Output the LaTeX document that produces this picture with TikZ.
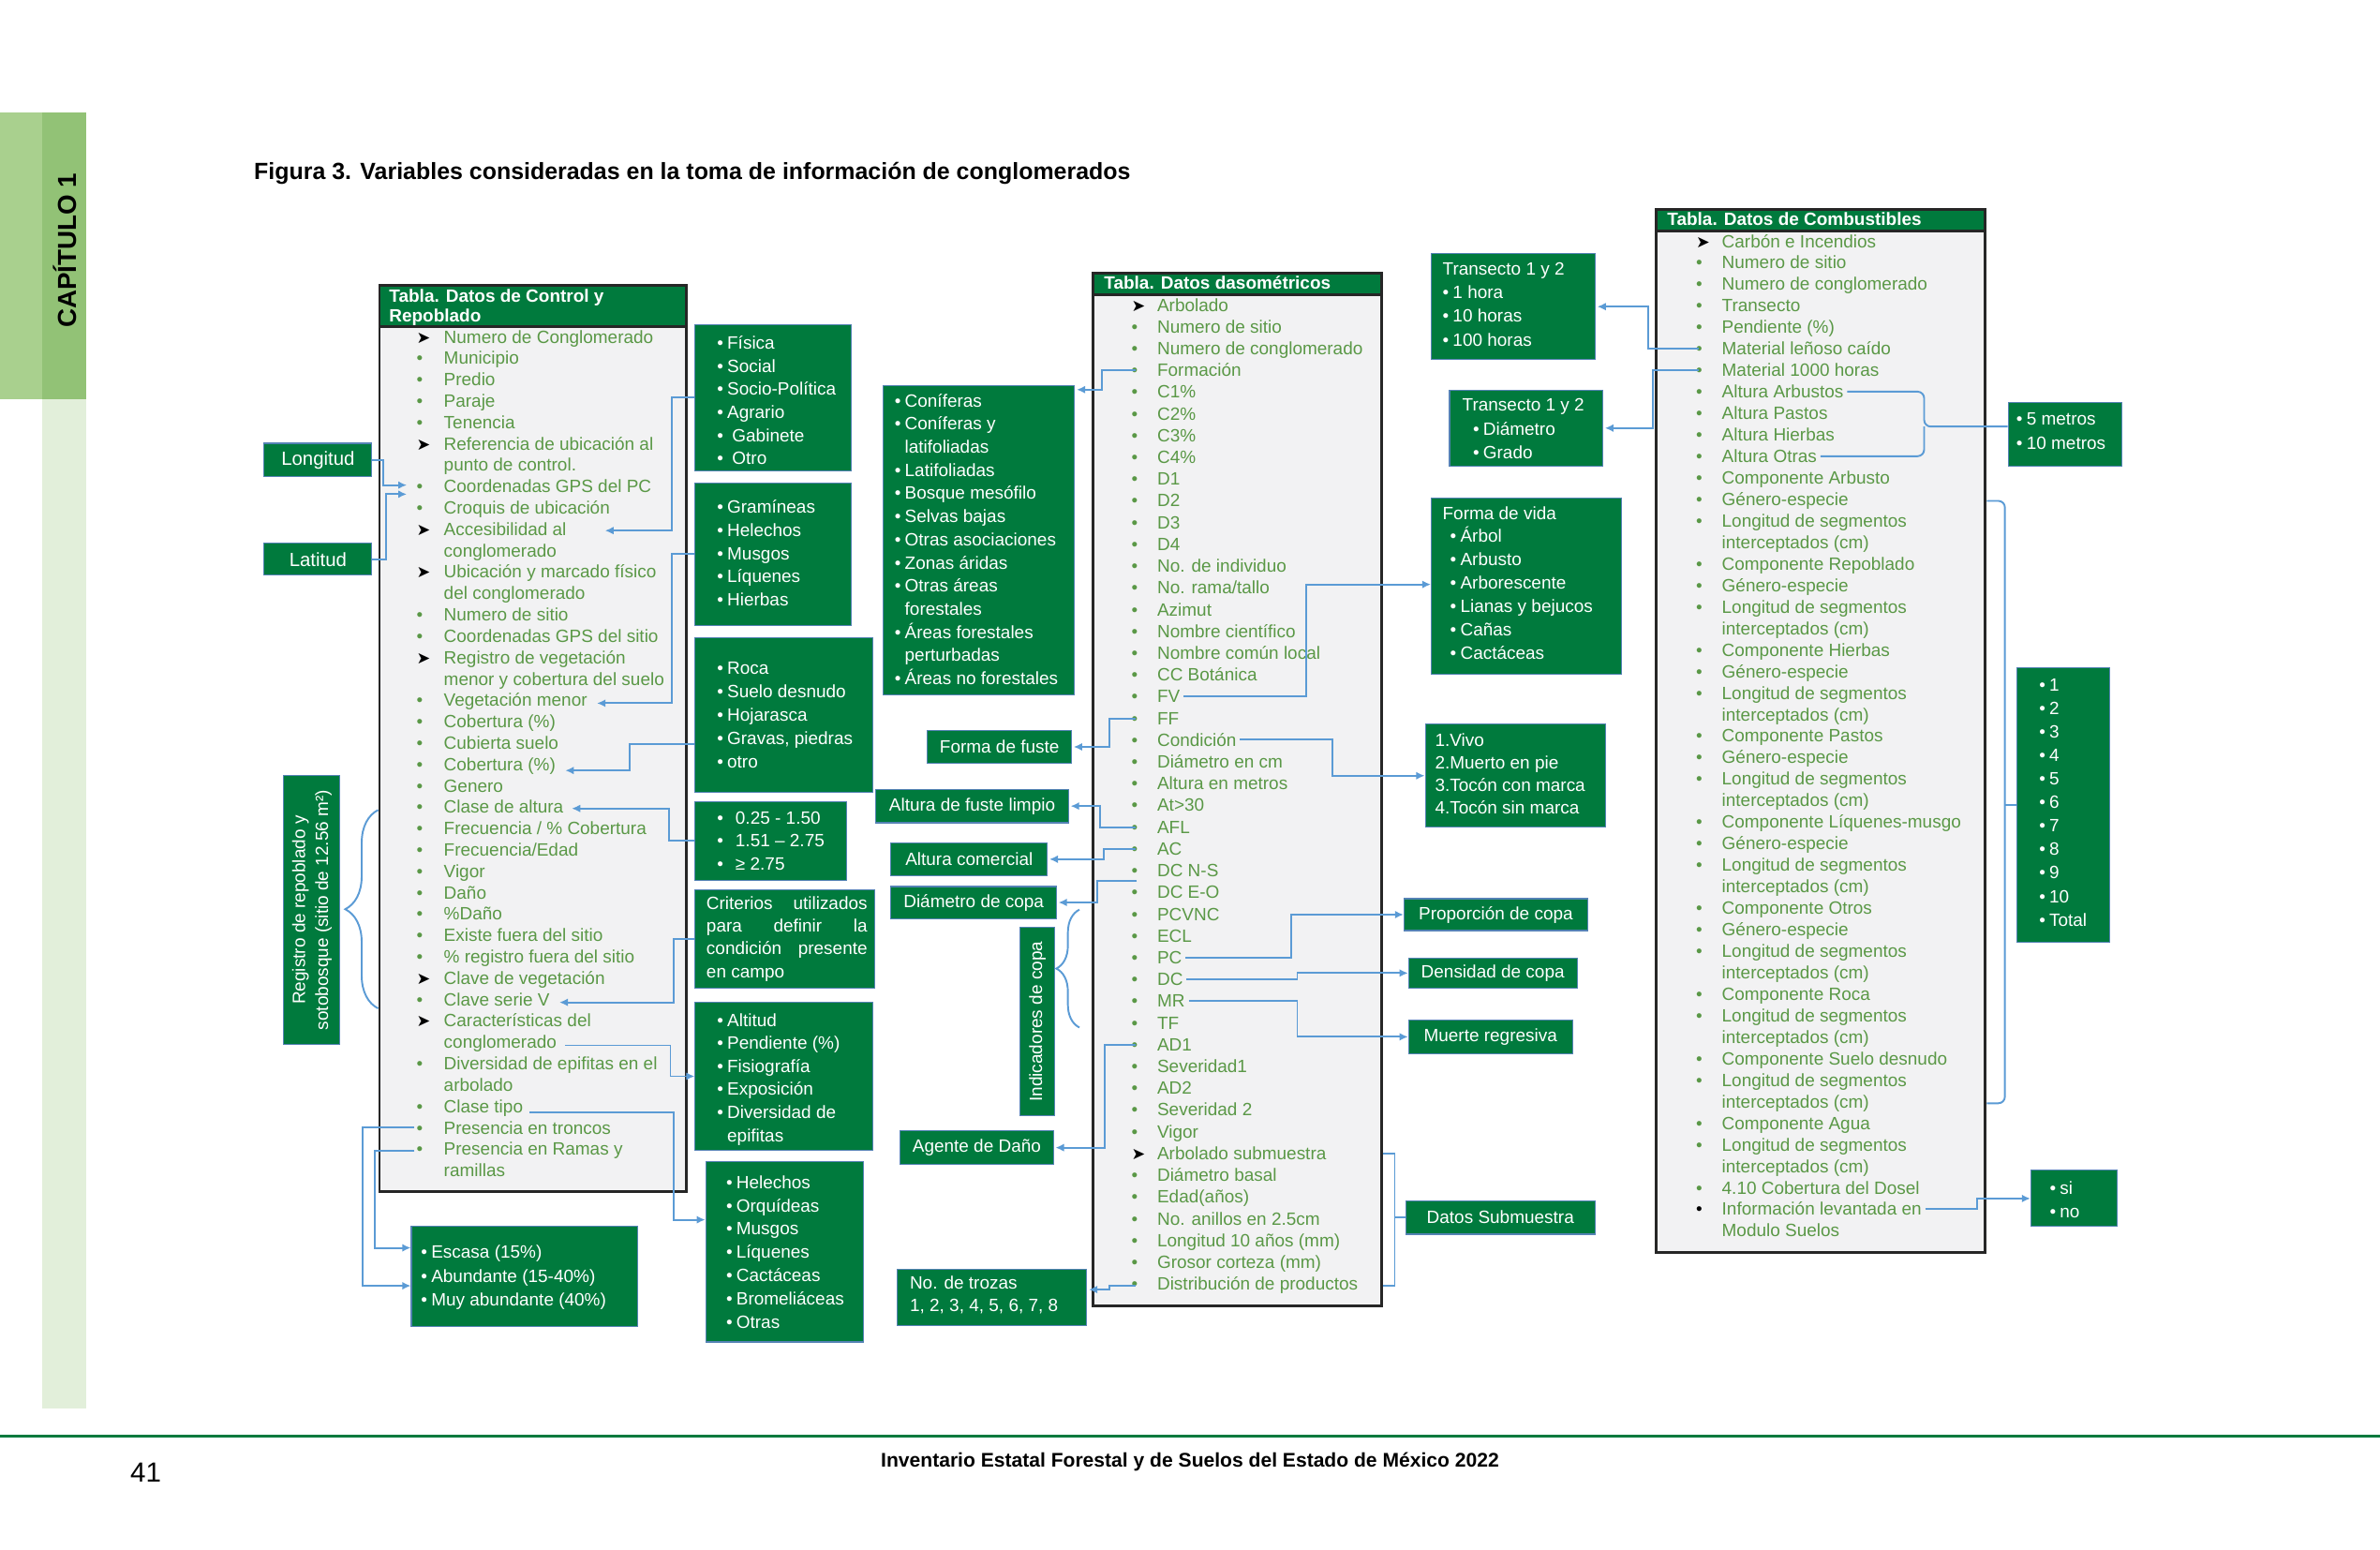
\documentclass[tikz,border=0pt]{standalone}
\usepackage{fontspec}
\setmainfont{Liberation Sans}
\newfontfamily\symf{DejaVu Sans}
\usetikzlibrary{arrows.meta,calc,fit,decorations.pathreplacing}
\definecolor{boxg}{RGB}{0,122,61}
\definecolor{tabtxt}{RGB}{90,152,70}
\definecolor{tabbg}{RGB}{242,242,243}
\definecolor{connc}{RGB}{91,155,213}
\definecolor{boxedge}{RGB}{84,130,180}
\definecolor{sidea}{RGB}{169,208,142}
\definecolor{sideb}{RGB}{146,194,118}
\definecolor{sidec}{RGB}{226,239,218}
\definecolor{footc}{RGB}{0,122,61}
\newdimen\pxu \pxu=0.0162cm
\newcommand\fs{\fontsize{5.4}{6.5}\selectfont}
\newcommand\fsb{\bfseries\fontsize{5.4}{6.5}\selectfont}
\newcommand\bula{{\symf\fontsize{5}{5}\selectfont\color{black}➤}}
\newcommand\bulb{{\color{tabtxt}•}}
\newcommand\bulk{{\color{black}•}}
\newcommand\buln{}
\newcommand\wb{•\kern1.2pt}
\newcommand\wi{\hphantom{\wb}}
\newcommand\tablist[6]{\foreach \bt/\tx [count=\i] in {#6}{%
  \node[txt] (#1\i) at (#3,{#4+4+#5*(\i-1)}) {\tx};
  \node[txt] (#1B\i) at (#2,{#4+4+#5*(\i-1)}) {\csname bul\bt\endcsname};}}
\newcommand\boxlist[5]{\foreach \tx [count=\i] in {#5}{%
  \node[wtxt] (#1\i) at (#2,{#3+4+#4*(\i-1)}) {\tx};}}
\begin{document}
\begin{tikzpicture}[x=0.0162cm,y=-0.0162cm,
  txt/.style={inner sep=0,anchor=base west,font=\fs,text=tabtxt},
  wtxt/.style={inner sep=0,anchor=base west,font=\fs,text=white},
  ctxt/.style={inner sep=0,font=\fs,text=white},
  gbox/.style={fill=boxg,draw=boxedge,line width=0.3pt,inner sep=0},
  tabbox/.style={fill=tabbg,draw=black!85,line width=0.8pt,inner sep=0},
  thead/.style={fill=boxg,draw=black!85,line width=0.8pt,inner sep=0},
  conn/.style={draw=connc,line width=0.55pt},
  arr/.style={conn,-{Latex[length=2.6pt,width=2.4pt]}},
  brc/.style={conn,decorate,decoration={brace,amplitude=#1}},
]
\useasboundingbox (0,0) rectangle (1568,1021);
\fill[white] (0,0) rectangle (1568,1021);
% sidebar
\fill[sidea] (0,74) rectangle (28,263);
\fill[sideb] (28,74) rectangle (57,263);
\fill[sidec] (28,263) rectangle (57,928);
\node[rotate=90,inner sep=0,font=\bfseries\fontsize{7.9}{9}\selectfont] (CAP) at (43,165) {CAPÍTULO 1};
% title and footer
\node[inner sep=0,anchor=base west,font=\bfseries\fontsize{7.1}{8}\selectfont] (TIT) at (167,118.5) {Figura 3. Variables consideradas en la toma de información de conglomerados};
\draw[footc,line width=1pt] (0,946) -- (1568,946);
\node[inner sep=0,font=\bfseries\fontsize{6}{7}\selectfont] (FOO) at (784,963) {Inventario Estatal Forestal y de Suelos del Estado de México 2022};
\node[inner sep=0,font=\fontsize{8.4}{10}\selectfont] (PG) at (96,970) {41};

% ---------- tables ----------
\node[tabbox,fit={(250,188) (452,785)}] (T1) {};
\node[thead,fit={(250,188) (452,215)}] (T1H) {};
\node[wtxt,font=\fsb] (T1H1) at (256,199) {Tabla. Datos de Control y};
\node[wtxt,font=\fsb] (T1H2) at (256,212) {Repoblado};
\tablist{CL}{274}{292}{222}{14.08}{a/Numero de Conglomerado, b/Municipio, b/Predio, b/Paraje, b/Tenencia, a/Referencia de ubicación al, n/punto de control., b/Coordenadas GPS del PC, b/Croquis de ubicación, a/Accesibilidad al, n/conglomerado, a/Ubicación y marcado físico, n/del conglomerado, b/Numero de sitio, b/Coordenadas GPS del sitio, a/Registro de vegetación, n/menor y cobertura del suelo, b/Vegetación menor, b/Cobertura (\%), b/Cubierta suelo, b/Cobertura (\%), b/Genero, b/Clase de altura, b/{Frecuencia / \% Cobertura}, b/{Frecuencia/Edad}, b/Vigor, b/Daño, b/\%Daño, b/Existe fuera del sitio, b/\% registro fuera del sitio, a/Clave de vegetación, b/Clave serie V, a/Características del, n/conglomerado, b/Diversidad de epifitas en el, n/arbolado, b/Clase tipo, b/Presencia en troncos, b/Presencia en Ramas y, n/ramillas}

\node[tabbox,fit={(720,180) (910,860)}] (T2) {};
\node[thead,fit={(720,180) (910,194)}] (T2H) {};
\node[wtxt,font=\fsb] (T2H1) at (727,190.5) {Tabla. Datos dasométricos};
\tablist{DM}{745}{762}{201}{14.33}{a/Arbolado, b/Numero de sitio, b/Numero de conglomerado, b/Formación, b/C1\%, b/C2\%, b/C3\%, b/C4\%, b/D1, b/D2, b/D3, b/D4, b/No. de individuo, b/{No. rama/tallo}, b/Azimut, b/Nombre científico, b/Nombre común local, b/CC Botánica, b/FV, b/FF, b/Condición, b/Diámetro en cm, b/Altura en metros, b/At>30, b/AFL, b/AC, b/DC N-S, b/DC E-O, b/PCVNC, b/ECL, b/PC, b/DC, b/MR, b/TF, b/AD1, b/Severidad1, b/AD2, b/Severidad 2, b/Vigor, a/Arbolado submuestra, b/Diámetro basal, b/Edad(años), b/No. anillos en 2.5cm, b/Longitud 10 años (mm), b/Grosor corteza (mm), b/Distribución de productos}

\node[tabbox,fit={(1091,138) (1308,825)}] (T3) {};
\node[thead,fit={(1091,138) (1308,152)}] (T3H) {};
\node[wtxt,font=\fsb] (T3H1) at (1098,148.5) {Tabla. Datos de Combustibles};
\tablist{CB}{1117}{1134}{159}{14.17}{a/Carbón e Incendios, b/Numero de sitio, b/Numero de conglomerado, b/Transecto, b/Pendiente (\%), b/Material leñoso caído, b/Material 1000 horas, b/Altura Arbustos, b/Altura Pastos, b/Altura Hierbas, b/Altura Otras, b/Componente Arbusto, b/Género-especie, b/Longitud de segmentos, n/interceptados (cm), b/Componente Repoblado, b/Género-especie, b/Longitud de segmentos, n/interceptados (cm), b/Componente Hierbas, b/Género-especie, b/Longitud de segmentos, n/interceptados (cm), b/Componente Pastos, b/Género-especie, b/Longitud de segmentos, n/interceptados (cm), b/Componente Líquenes-musgo, b/Género-especie, b/Longitud de segmentos, n/interceptados (cm), b/Componente Otros, b/Género-especie, b/Longitud de segmentos, n/interceptados (cm), b/Componente Roca, b/Longitud de segmentos, n/interceptados (cm), b/Componente Suelo desnudo, b/Longitud de segmentos, n/interceptados (cm), b/Componente Agua, b/Longitud de segmentos, n/interceptados (cm), b/4.10 Cobertura del Dosel, k/Información levantada en, n/Modulo Suelos}

% ---------- green boxes ----------
\node[gbox,fit={(174,292) (245,314)}] (LON) {};
\node[gbox,fit={(174,358) (245,379)}] (LAT) {};
\node[gbox,fit={(187,511) (224,688)}] (REG) {};
\node[gbox,fit={(458,214) (561,310)}] (FIS) {};
\node[gbox,fit={(458,318) (561,412)}] (GRA) {};
\node[gbox,fit={(458,420) (575,522)}] (ROC) {};
\node[gbox,fit={(458,528) (558,580)}] (HGT) {};
\node[gbox,fit={(458,586) (576,651)}] (CRI) {};
\node[gbox,fit={(458,660) (575,758)}] (ALT) {};
\node[gbox,fit={(465,765) (569,884)}] (HEL) {};
\node[gbox,fit={(271,808) (420,874)}] (ESC) {};
\node[gbox,fit={(582,254) (708,458)}] (CON) {};
\node[gbox,fit={(611,481) (706,503)}] (FDF) {};
\node[gbox,fit={(577,520) (704,542)}] (AFLB) {};
\node[gbox,fit={(587,555) (690,577)}] (ACB) {};
\node[gbox,fit={(587,584) (696,605)}] (DCB) {};
\node[gbox,fit={(672,611) (695,735)}] (IND) {};
\node[gbox,fit={(593,745) (694,767)}] (AGB) {};
\node[gbox,fit={(591,836) (716,873)}] (TRZ) {};
\node[gbox,fit={(943,167) (1051,237)}] (TRH) {};
\node[gbox,fit={(955,257) (1056,307)}] (TRD) {};
\node[gbox,fit={(943,328) (1068,444)}] (FVB) {};
\node[gbox,fit={(939,477) (1058,545)}] (VIV) {};
\node[gbox,fit={(925,592) (1046,613)}] (PRO) {};
\node[gbox,fit={(928,631) (1039,651)}] (DEN) {};
\node[gbox,fit={(928,672) (1036,694)}] (MUE) {};
\node[gbox,fit={(926,791) (1051,813)}] (DSB) {};
\node[gbox,fit={(1323,265) (1398,307)}] (MET) {};
\node[gbox,fit={(1329,440) (1390,621)}] (NUM) {};
\node[gbox,fit={(1338,771) (1395,808)}] (SIN) {};

% ---------- box texts ----------
\node[ctxt,font=\fontsize{5.8}{7}\selectfont] (LONT) at (LON.center) {Longitud};
\node[ctxt,font=\fontsize{5.8}{7}\selectfont] (LATT) at (LAT.center) {Latitud};
\node[ctxt,rotate=90,align=center,font=\fontsize{5.4}{7}\selectfont] (REGT) at (REG.center) {Registro de repoblado y\\sotobosque (sitio de 12.56 m²)};
\boxlist{FIST}{472}{226}{15.2}{\wb Física, \wb Social, \wb Socio-Política, \wb Agrario, \wb\ Gabinete, \wb\ Otro}
\boxlist{GRAT}{472}{334}{15.3}{\wb Gramíneas, \wb Helechos, \wb Musgos, \wb Líquenes, \wb Hierbas}
\boxlist{ROCT}{472}{440}{15.5}{\wb Roca, \wb Suelo desnudo, \wb Hojarasca, {\wb Gravas, piedras}, \wb otro}
\boxlist{HGTT}{472}{539}{15}{\wb\hspace{2.5pt}0.25 - 1.50, \wb\hspace{2.5pt}1.51 – 2.75, \wb\hspace{2.5pt}≥ 2.75}
\node[wtxt] (CRI1) at (465,599) {\makebox[106\pxu][s]{Criterios utilizados}};
\node[wtxt] (CRI2) at (465,614) {\makebox[106\pxu][s]{para definir la}};
\node[wtxt] (CRI3) at (465,629) {\makebox[106\pxu][s]{condición presente}};
\node[wtxt] (CRI4) at (465,644) {en campo};
\boxlist{ALTT}{472}{672}{15.2}{\wb Altitud, \wb Pendiente (\%), \wb Fisiografía, \wb Exposición, \wb Diversidad de, \wi epifitas}
\boxlist{HELT}{478}{779}{15.3}{\wb Helechos, \wb Orquídeas, \wb Musgos, \wb Líquenes, \wb Cactáceas, \wb Bromeliáceas, \wb Otras}
\boxlist{ESCT}{277}{825}{15.5}{\wb Escasa (15\%), \wb Abundante (15-40\%), \wb Muy abundante (40\%)}
\boxlist{CONT}{589}{264}{15.25}{\wb Coníferas, \wb Coníferas y, \wi latifoliadas, \wb Latifoliadas, \wb Bosque mesófilo, \wb Selvas bajas, \wb Otras asociaciones, \wb Zonas áridas, \wb Otras áreas, \wi forestales, \wb Áreas forestales, \wi perturbadas, \wb Áreas no forestales}
\node[ctxt] (FDFT) at (FDF.center) {Forma de fuste};
\node[ctxt] (AFLT) at (AFLB.center) {Altura de fuste limpio};
\node[ctxt] (ACT) at (ACB.center) {Altura comercial};
\node[ctxt] (DCT) at (DCB.center) {Diámetro de copa};
\node[ctxt,rotate=90] (INDT) at (IND.center) {Indicadores de copa};
\node[ctxt] (AGT) at (AGB.center) {Agente de Daño};
\boxlist{TRZT}{599}{845}{15}{No. de trozas, {1, 2, 3, 4, 5, 6, 7, 8}}
\boxlist{TRHT}{950}{177}{15.6}{Transecto 1 y 2, \wb 1 hora, \wb 10 horas, \wb 100 horas}
\node[wtxt] (TRD0) at (963,271) {Transecto 1 y 2};
\boxlist{TRDL}{970}{283}{15}{\wb Diámetro, \wb Grado}
\node[wtxt] (FV0) at (950,342) {Forma de vida};
\boxlist{FVL}{955}{353}{15.5}{\wb Árbol, \wb Arbusto, \wb Arborescente, \wb Lianas y bejucos, \wb Cañas, \wb Cactáceas}
\boxlist{VIVT}{945}{488}{14.7}{1.Vivo, 2.Muerto en pie, 3.Tocón con marca, 4.Tocón sin marca}
\node[ctxt] (PROT) at (PRO.center) {Proporción de copa};
\node[ctxt] (DENT) at (DEN.center) {Densidad de copa};
\node[ctxt] (MUET) at (MUE.center) {Muerte regresiva};
\node[ctxt] (DSBT) at (DSB.center) {Datos Submuestra};
\boxlist{METT}{1328}{276}{16}{\wb 5 metros, \wb 10 metros}
\boxlist{NUMT}{1343}{451}{15.5}{\wb 1, \wb 2, \wb 3, \wb 4, \wb 5, \wb 6, \wb 7, \wb 8, \wb 9, \wb 10, \wb Total}
\boxlist{SINT}{1350}{783}{15}{\wb si, \wb no}

% ---------- connectors: left ----------
\draw[arr] (LON.east) -- ++(7,0) |- ($(CL8.base west)+(-24,-5)$);
\draw[arr] (LAT.east) -- ++(9,0) |- ($(CL8.base west)+(-24,1)$);
\draw[arr] (FIS.west) -- ++(-15,0) |- ($(CL10.east)+(25,1)$);
\draw[arr] (GRA.west) -- ++(-15,0) |- ($(CL18.east)+(6,1)$);
\draw[arr] ($(ROC.west)+(0,19)$) -- ++(-43,0) |- ($(CL21.east)+(6,3)$);
\draw[arr] (HGT.west) -- ++(-17,0) |- ($(CL23.east)+(5,1)$);
\draw[arr] (CRI.west) -- ++(-14,0) |- ($(CL32.east)+(6,2)$);
\draw[arr] ($(CL34.east)+(5,1)$) -| ($(ALT.west)+(-16,0)$) -- (ALT.west);
\draw[arr] ($(CL37.east)+(4,3)$) -| ($(HEL.west)+(-21,-21)$) -- ($(HEL.west)+(0,-21)$);
\draw[arr] ($(CL38.west)+(-19,0)$) -- ++(-34,0) |- ($(ESC.west)+(0,6)$);
\draw[arr] ($(CL39.west)+(-19,0)$) -- ++(-26,0) |- ($(ESC.west)+(0,-19)$);
\draw[brc=10pt] ($(T1.west|-CL32.west)+(0,6)$) -- ($(T1.west|-CL23.west)+(0,2)$);

% ---------- connectors: middle ----------
\draw[arr] ($(DM4.west)+(-14,0)$) -- ++(-22,0) |- ($(CON.north east)+(1,3)$);
\draw[arr] ($(DM20.west)+(-14,0)$) -- ++(-17,0) |- ($(FDF.east)+(1,0)$);
\draw[arr] ($(DM25.west)+(-14,0)$) -- ++(-23,0) |- ($(AFLB.east)+(1,0)$);
\draw[arr] ($(DM26.west)+(-14,0)$) -- ++(-21,0) |- ($(ACB.east)+(1,0)$);
\draw[arr] ($(DM27.west)+(-13,7)$) -- ++(-26,0) |- ($(DCB.east)+(1,0)$);
\draw[arr] ($(DM35.west)+(-14,0)$) -- ++(-20,0) |- ($(AGB.east)+(1,0)$);
\draw[arr] ($(DM46.west)+(-14,0)$) -- ++(-17,0) |- ($(TRZ.east)+(1,-5)$);
\draw[brc=7pt] ($(T2.west|-DM34.west)+(-8,3)$) -- ($(T2.west|-DM29.west)+(-8,-3)$);
\draw[arr] ($(DM19.east)+(2,0)$) -| ($(FVB.west)+(-82,-1)$) -- ($(FVB.west)+(0,-1)$);
\draw[arr] ($(DM21.east)+(2,0)$) -| ($(VIV.west)+(-61,0)$) -- (VIV.west);
\draw[arr] ($(DM31.east)+(2,0)$) -| ($(PRO.west)+(-74,0)$) -- (PRO.west);
\draw[arr] ($(DM32.east)+(2,0)$) -| ($(DEN.west)+(-73,0)$) -- (DEN.west);
\draw[arr] ($(DM33.east)+(2,0)$) -| ($(MUE.west)+(-73,0)$) -- (MUE.west);
\draw[conn] (T2.east|-DM40.west) -- ++(8,0) |- (T2.east|-DM46.west);
\draw[conn] ($(T2.east|-DSB.west)+(8,0)$) -- (DSB.west);

% ---------- connectors: right ----------
\draw[arr] ($(CB6.west)+(-15,0)$) -- ++(-33,0) |- ($(TRH.east)+(1,0)$);
\draw[arr] ($(CB7.west)+(-15,0)$) -- ++(-30,0) |- ($(TRD.east)+(1,0)$);
\draw[conn,rounded corners=2pt] ($(CB8.east)+(2,0)$) -| ($(MET.west)+(-55,-5)$) -- ($(MET.west)+(0,-5)$);
\draw[conn,rounded corners=2pt] ($(CB11.east)+(2,0)$) -| ($(MET.west)+(-55,-5)$);
\draw[conn,rounded corners=2pt] (T3.east|-CB13.west) -- ++(12,0) |- (T3.east|-CB41.west);
\draw[conn] ($(T3.east|-NUM.west)+(12,0)$) -- (NUM.west);
\draw[arr] ($(CB46.east)+(2,0)$) -| ($(SIN.west)+(-35,0)$) -- (SIN.west);
\end{tikzpicture}
\end{document}
